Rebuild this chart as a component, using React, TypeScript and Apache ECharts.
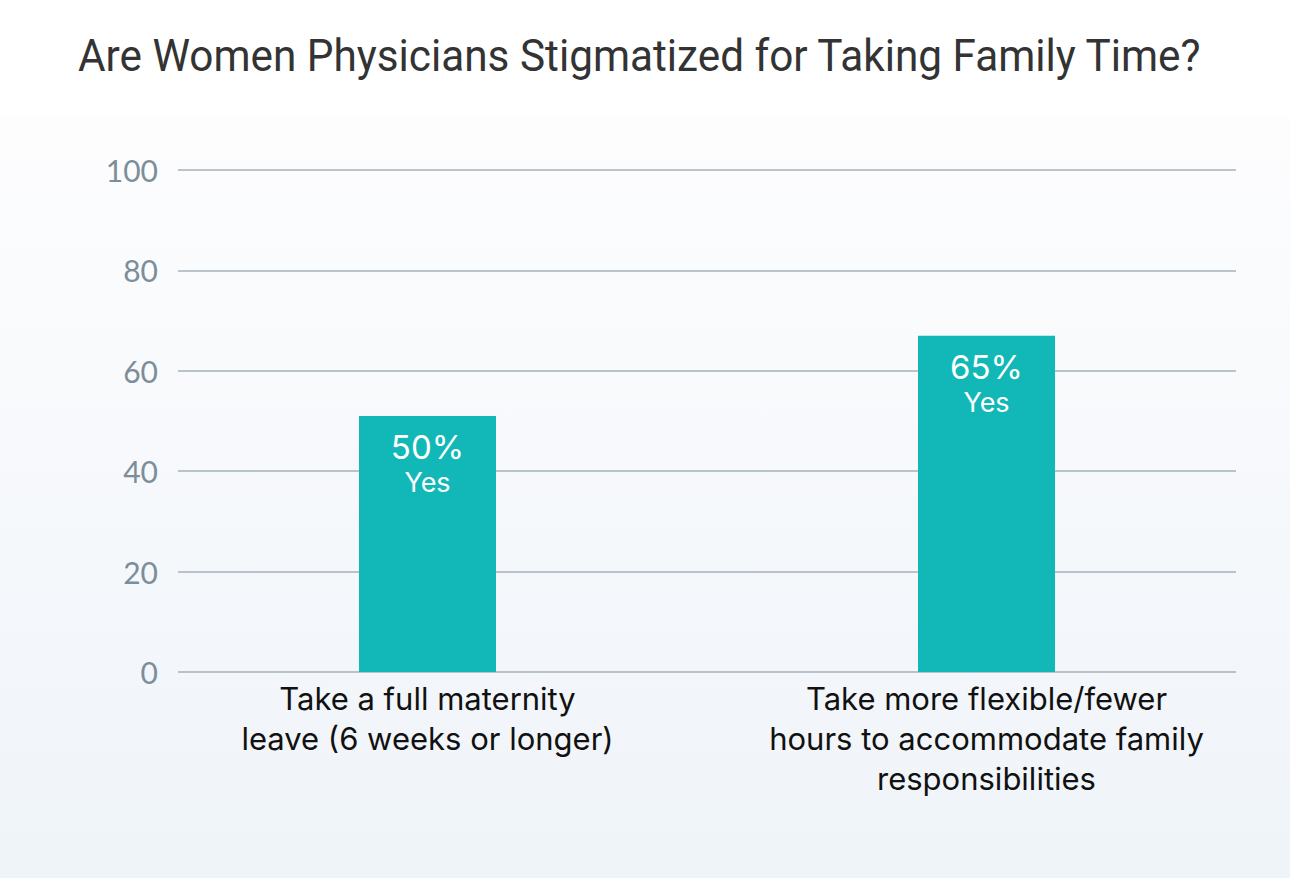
import React, { useEffect, useRef } from "react";
import * as echarts from "echarts";

const TITLE = "Are Women Physicians Stigmatized for Taking Family Time?";
const categories = [
  "Take a full maternity\nleave (6 weeks or longer)",
  "Take more flexible/fewer\nhours to accommodate family\nresponsibilities",
];
const barValues = [51, 67];
const pctLabels = ["50%", "65%"];
const answerLabel = "Yes";
const yMin = 0;
const yMax = 100;
const yStep = 20;

const W = 1290;
const H = 878;
const AXIS_FONT = "Lato, 'Noto Sans', sans-serif";
const BODY_FONT = "Inter, 'Noto Sans', sans-serif";

function measure(text: string, font: string): number {
  const c = document.createElement("canvas");
  const ctx = c.getContext("2d");
  if (!ctx) return 0;
  ctx.font = font;
  return ctx.measureText(text).width;
}

export default function App() {
  const ref = useRef<HTMLDivElement>(null);
  useEffect(() => {
    document.body.style.margin = "0";
    if (!ref.current) return;
    const chart = echarts.init(ref.current, undefined, { renderer: "svg" });
    const titleSize = 45;
    const tw = measure(TITLE, `400 ${titleSize}px Roboto`) || 1250;
    const titleScale = 1125 / tw;

    const option: any = {
      animation: false,
      backgroundColor: "transparent",
      graphic: [
        {
          type: "text",
          x: 78,
          y: 56,
          scaleX: titleScale,
          style: {
            text: TITLE,
            fontFamily: "Roboto",
            fontSize: titleSize,
            fontWeight: 400,
            fill: "#333333",
            verticalAlign: "middle",
            align: "left",
          },
        },
      ],
      grid: [
        { left: 178, right: W - 1236, top: 170, bottom: H - 672 },
        { left: 148, right: W - 1266, top: 170, bottom: H - 672 },
      ],
      xAxis: [
        { type: "category", gridIndex: 0, data: categories, show: false },
        {
          type: "category",
          gridIndex: 1,
          data: categories,
          axisLine: { show: false },
          axisTick: { show: false },
          axisLabel: {
            color: "#111111",
            fontFamily: BODY_FONT,
            fontSize: 31,
            lineHeight: 40,
            margin: 6,
            interval: 0,
          },
        },
      ],
      yAxis: [
        {
          type: "value",
          gridIndex: 0,
          min: yMin,
          max: yMax,
          interval: yStep,
          axisLine: { show: false },
          axisTick: { show: false },
          axisLabel: {
            color: "#7b8e99",
            fontFamily: AXIS_FONT,
            fontSize: 30,
            margin: 20,
          },
          splitLine: { lineStyle: { color: "#a5b2b9", width: 1.5 } },
        },
        { type: "value", gridIndex: 1, min: yMin, max: yMax, show: false },
      ],
      series: [
        {
          type: "bar",
          xAxisIndex: 1,
          yAxisIndex: 1,
          data: barValues,
          barWidth: 137,
          itemStyle: { color: "#12b8b7" },
          label: {
            show: true,
            position: "insideTop",
            distance: 12,
            color: "#ffffff",
            fontFamily: BODY_FONT,
            formatter: (p: any) => `{pct|${pctLabels[p.dataIndex]}}\n{ans|${answerLabel}}`,
            rich: {
              pct: { fontSize: 33, lineHeight: 38, color: "#ffffff", fontFamily: BODY_FONT },
              ans: { fontSize: 27, lineHeight: 34, color: "#ffffff", fontFamily: BODY_FONT },
            },
          },
        },
      ],
    };
    chart.setOption(option);
    return () => chart.dispose();
  }, []);

  return (
    <div
      ref={ref}
      style={{
        width: W,
        height: H,
        background:
          "linear-gradient(to bottom, #ffffff 0px, #ffffff 117px, #fdfdfe 117px, #eff4f9 878px)",
      }}
    />
  );
}
